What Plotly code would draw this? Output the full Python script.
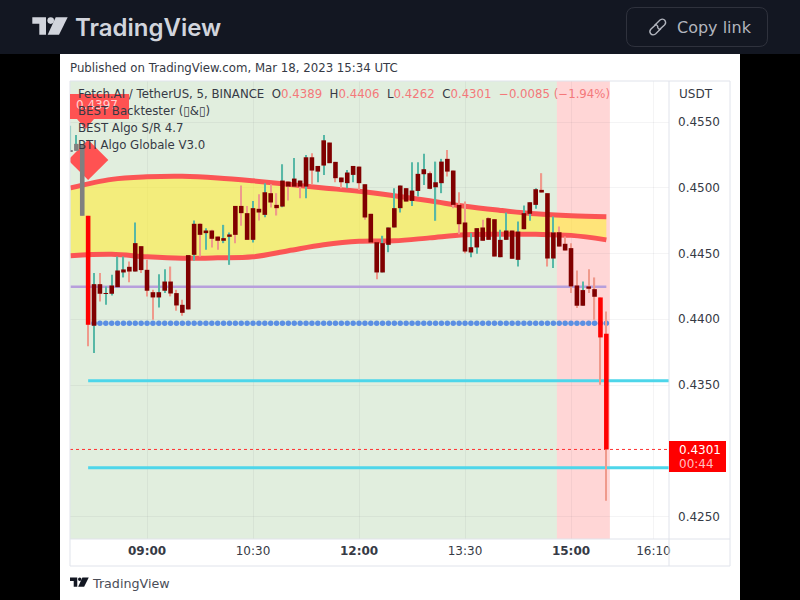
import plotly.graph_objects as go
import numpy as np
import pandas as pd

# FET/USDT 5 minute bars
times = pd.date_range("2023-03-18 07:55", "2023-03-18 15:30", freq="5min")

open_px = [
    .45273, .45281, .45326, .44787, .43951, .44267, .44194, .44194, .44244, .44356,
    .44399, .44363, .44556, .44376, .44206, .44166, .44217, .44287, .44199, .44110,
    .44488, .44490, .44726, .44655, .44675, .44629, .44597, .44627, .44862, .44862,
    .44807, .44604, .44840, .44794, .44959, .44870, .44857, .45047, .45009, .45055,
    .45009, .45232, .45123, .45169, .45344, .45197, .45078, .45035, .45098, .45161,
    .45027, .44802, .44586, .44356, .44566, .44698, .44845, .44997, .44900, .44976,
    .45103, .45111, .45004, .45035, .45220, .45131, .44870, .44736, .44508, .44546,
    .44698, .44769, .44761, .44472, .44604, .44675, .44452, .44685, .44802, .44870,
    .44984, .44959, .44462, .44662, .44574, .44541, .44257, .44103, .44250, .44229,
    .44166, .4389,
]
high_px = [
    .45471, .45402, .45326, .44787, .44351, .44351, .44250, .44338, .44477, .44477,
    .44439, .44736, .44556, .44452, .44224, .44343, .44381, .44401, .44224, .44148,
    .44488, .44751, .44731, .44693, .44680, .44629, .44718, .44660, .44862, .45017,
    .44862, .44900, .44951, .45035, .45027, .44959, .45179, .45047, .45227, .45055,
    .45250, .45263, .45166, .45402, .45344, .45197, .45078, .45136, .45166, .45161,
    .45027, .44802, .44586, .44635, .44698, .44997, .45017, .44997, .45194, .45194,
    .45258, .45123, .45199, .45220, .45288, .45131, .44966, .44895, .44655, .44693,
    .44756, .44776, .44761, .44680, .44812, .44675, .44743, .44865, .44890, .44997,
    .45111, .44959, .44781, .44705, .44629, .44579, .44371, .44287, .44381, .44318,
    .44166, .4406,
]
low_px = [
    .45273, .45281, .44787, .43794, .43743, .44136, .44110, .44181, .44244, .44318,
    .44282, .44363, .44351, .44174, .43996, .44090, .44199, .44174, .44065, .44027,
    .44075, .44447, .44477, .44528, .44546, .44528, .44579, .44414, .44579, .44711,
    .44604, .44584, .44751, .44776, .44850, .44789, .44852, .44903, .45009, .44921,
    .44921, .45027, .45042, .45098, .45187, .45042, .44997, .44997, .45042, .44984,
    .44756, .44584, .44305, .44356, .44510, .44698, .44812, .44895, .44862, .44933,
    .45022, .44989, .44749, .44959, .45085, .44845, .44647, .44503, .44472, .44498,
    .44597, .44604, .44477, .44472, .44604, .44460, .44401, .44685, .44749, .44840,
    .44964, .44401, .44389, .44553, .44523, .44199, .44085, .44103, .44199, .43996,
    .43502, .4262,
]
close_px = [
    .45281, .45334, .44787, .43958, .44267, .44194, .44199, .44257, .44371, .44379,
    .44363, .44579, .44374, .44217, .44166, .44206, .44287, .44196, .44105, .44049,
    .44075, .44726, .44642, .44675, .44612, .44597, .44617, .44645, .44642, .44807,
    .44604, .44845, .44812, .44966, .44888, .44845, .45055, .45009, .45070, .45009,
    .45232, .45131, .45166, .45361, .45187, .45073, .45042, .45116, .45166, .45035,
    .44774, .44584, .44356, .44579, .44698, .44845, .45017, .44895, .44979, .45106,
    .45141, .44992, .45042, .45199, .45123, .44870, .44723, .44515, .44548, .44693,
    .44597, .44604, .44477, .44604, .44675, .44460, .44667, .44807, .44890, .44989,
    .44964, .44462, .44660, .44553, .44523, .44250, .44103, .44222, .44232, .44171,
    .43862, .4301,
]
gray_bars = ["07:55", "08:00", "08:05"]
bright_bars = ["08:10", "15:25", "15:30"]

# cloud bands, one reading every half hour
band_times = ["07:55", "08:30", "09:00", "09:30", "10:00", "10:30", "11:00", "11:30", "12:00",
              "12:30", "13:00", "13:30", "14:00", "14:30", "15:00", "15:30"]
band_upper = [.44999, .45064, .45083, .45087, .45075, .45053, .45026, .44999, .44973,
              .44939, .44901, .44859, .44828, .44802, .44787, .44779]
band_lower = [.44483, .44494, .44475, .44464, .44467, .44475, .44521, .44566, .44593,
              .44597, .44619, .44642, .44646, .44646, .44638, .44604]

level_purple = .44247
level_dots = .4397
level_cyan = [.43533, .42871]
last_price = .4301
signal_price = .45212

x_ticks = ["09:00", "10:30", "12:00", "13:30", "15:00", "16:10"]
x_tick_labels = ["<b>09:00</b>", "10:30", "<b>12:00</b>", "13:30", "<b>15:00</b>", "16:10"]
y_ticks = [.425, .435, .44, .445, .45, .455]

DAY = "2023-03-18 "
X_START, X_END = DAY + "07:54:36", DAY + "16:23:12"
Y_RANGE = [.42329, .45812]
# paper coordinates come out about 2px short of the 800 wide figure
W, H = 798, 600
FONT = "DejaVu Sans"
BAR_MS = 300000
GRID = "rgba(42,46,57,0.05)"


def day(labels):
    return [DAY + t for t in labels]


def pt(x, y):
    return f"{x / W:.5f},{1 - y / H:.5f}"


def rect(x0, y0, x1, y1, color, line=None, layer="above"):
    return dict(type="rect", xref="paper", yref="paper", x0=x0 / W, x1=x1 / W, y0=1 - y0 / H,
                y1=1 - y1 / H, fillcolor=color, line=dict(color=line or color, width=1 if line else 0),
                layer=layer)


def path(points, color=None, line=None, width=1.4, layer="above"):
    return dict(type="path", xref="paper", yref="paper", path=points, fillcolor=color,
                line=dict(color=line or color, width=width if line else 0), layer=layer)


def poly(pts):
    return "M " + " L ".join(pt(*p) for p in pts) + " Z"


def tv_logo(x0, y0, s, color):
    # the T, the dot and the slash of the logo
    shapes = [
        path(poly([(x0, y0), (x0 + 13.7 * s, y0), (x0 + 13.7 * s, y0 + 17.5 * s), (x0 + 7 * s, y0 + 17.5 * s),
                   (x0 + 7 * s, y0 + 6.5 * s), (x0, y0 + 6.5 * s)]), color),
        path(poly([(x0 + 23.4 * s, y0), (x0 + 35.4 * s, y0), (x0 + 26.7 * s, y0 + 17.5 * s), (x0 + 15.4 * s, y0 + 17.5 * s)]), color),
        dict(type="circle", xref="paper", yref="paper", x0=(x0 + 15.1 * s) / W, x1=(x0 + 21.7 * s) / W,
             y0=1 - y0 / H, y1=1 - (y0 + 6.6 * s) / H, fillcolor=color, line=dict(width=0), layer="above"),
    ]
    return shapes


def label(x, y, text, size=11.75, color="#363a45", anchor="left", **font_kw):
    return dict(xref="paper", yref="paper", x=x / W, y=1 - y / H, text=text, showarrow=False,
                xanchor=anchor, yanchor="middle", align="left", borderpad=0,
                font=dict(family=font_kw.pop("family", FONT), size=size, color=color, **font_kw))


opens, highs, lows, closes = map(np.array, (open_px, high_px, low_px, close_px))
hhmm = times.strftime("%H:%M")
wick_colors = ["#58b8a6" if c > o else "#ef9a8c" for o, c in zip(open_px, close_px)]
body_colors = ["#808080" if t in gray_bars else "#ff0000" if t in bright_bars else "#800000" for t in hhmm]

fig = go.Figure()

# layers under the candles
fig.add_trace(go.Scatter(x=day(band_times), y=band_upper, mode="lines", line=dict(color="#fb5555", width=5, shape="spline")))
fig.add_trace(go.Scatter(x=day(band_times), y=band_lower, mode="lines", line=dict(color="#fb5555", width=5, shape="spline"),
                         fill="tonexty", fillcolor="rgba(255,236,59,0.6)"))
fig.add_trace(go.Scatter(x=[times[0], times[-1]], y=[level_purple] * 2, mode="lines", line=dict(color="#b79fdc", width=2.5)))
fig.add_trace(go.Scatter(x=times[4:], y=[level_dots] * len(times[4:]), mode="markers",
                         marker=dict(color="#5b8fe3", size=5.5)))
for level in level_cyan:
    fig.add_trace(go.Scatter(x=[times[3], X_END], y=[level] * 2, mode="lines", line=dict(color="#4dd6ea", width=3)))
fig.add_trace(go.Scatter(x=[X_START, X_END], y=[last_price] * 2, mode="lines",
                         line=dict(color="#ff3030", width=1, dash="dot")))
fig.add_trace(go.Scatter(x=[times[3]], y=[signal_price], mode="markers",
                         marker=dict(symbol="diamond", color="#ff5252", size=31)))

# candles go on overlay axes, otherwise the scatter layer would cover them
fig.add_trace(go.Bar(x=times, y=highs - lows, base=lows, width=BAR_MS * 0.2, marker=dict(color=wick_colors, line_width=0),
                     xaxis="x2", yaxis="y2"))
fig.add_trace(go.Bar(x=times, y=np.abs(closes - opens), base=np.minimum(opens, closes), width=BAR_MS * 0.78,
                     marker=dict(color=body_colors, line_width=0), xaxis="x2", yaxis="y2"))

shapes = [
    rect(0, 0, 800, 54, "#131722", layer="below"),
    rect(60, 54, 740, 600, "#ffffff", layer="below"),
    dict(type="rect", xref="x", yref="y", x0=X_START, x1=DAY + "14:48", y0=Y_RANGE[0], y1=Y_RANGE[1],
         fillcolor="rgba(90,160,70,0.18)", line_width=0, layer="below"),
    dict(type="rect", xref="x", yref="y", x0=DAY + "14:48", x1=DAY + "15:33", y0=Y_RANGE[0], y1=Y_RANGE[1],
         fillcolor="rgba(255,0,0,0.16)", line_width=0, layer="below"),
    # chart frame
    rect(70, 81, 730, 566, "rgba(0,0,0,0)", line="#e0e3eb"),
    dict(type="line", xref="paper", yref="paper", x0=669 / W, x1=669 / W, y0=1 - 81 / H, y1=1 - 566 / H,
         line=dict(color="#e0e3eb", width=1), layer="above"),
    dict(type="line", xref="paper", yref="paper", x0=70 / W, x1=730 / W, y0=1 - 539 / H, y1=1 - 539 / H,
         line=dict(color="#e0e3eb", width=1), layer="above"),
    # signal tag
    rect(70, 94, 129, 119, "#ff5252"),
    path(poly([(77, 119), (94, 119), (85.5, 129)]), "#ff5252"),
    # last price box
    rect(669, 441, 726, 472, "#ff0000"),
    # copy link button
    path(f"M {pt(635, 7.5)} L {pt(759, 7.5)} Q {pt(767.5, 7.5)} {pt(767.5, 16)} L {pt(767.5, 38)} "
         f"Q {pt(767.5, 46.5)} {pt(759, 46.5)} L {pt(635, 46.5)} Q {pt(626.5, 46.5)} {pt(626.5, 38)} "
         f"L {pt(626.5, 16)} Q {pt(626.5, 7.5)} {pt(635, 7.5)} Z", None, line="#2f323d", width=1),
    path(f"M {pt(654.5, 25.5)} L {pt(660, 20)} Q {pt(663, 18)} {pt(665, 20.5)} Q {pt(666.5, 23)} {pt(664.5, 25)} "
         f"L {pt(659.5, 29.5)} Q {pt(658, 28.5)} {pt(657.5, 27)}", None, line="#b2b5be"),
    path(f"M {pt(661, 28.5)} L {pt(655.5, 34)} Q {pt(652.5, 36)} {pt(650.5, 33.5)} Q {pt(649, 31)} {pt(651, 29)} "
         f"L {pt(656, 24.5)} Q {pt(657.5, 25.5)} {pt(658, 27)}", None, line="#b2b5be"),
]
shapes += tv_logo(32.3, 17.3, 1, "#d1d4dc")
shapes += tv_logo(70, 577.5, 0.53, "#131722")

RED = "#f4787a"
NB = "\u00a0"
ohlc_text = (f"Fetch.AI / TetherUS, 5, BINANCE{NB}{NB}O<span style='color:{RED}'>0.4389</span>{NB}{NB}"
             f"H<span style='color:{RED}'>0.4406</span>{NB}{NB}L<span style='color:{RED}'>0.4262</span>{NB}{NB}"
             f"C<span style='color:{RED}'>0.4301</span>{NB}{NB}<span style='color:{RED}'>\u22120.0085 (\u22121.94%)</span>")

annotations = [
    label(74, 27, "TradingView", 24, "#d1d4dc", family="Inter", weight=600),
    label(675.5, 27, "Copy link", 16, "#b2b5be"),
    label(69, 68.5, "Published on TradingView.com, Mar 18, 2023 15:34 UTC"),
    label(75, 105, "0.4397", 12, "rgba(255,255,255,0.75)"),
    label(77, 94.5, ohlc_text),
    label(77, 111.5, "BEST Backtester (\u25af&\u25af)"),
    label(77, 128.5, "BEST Algo S/R 4.7"),
    label(77, 144.5, "BTI Algo Globale V3.0"),
    label(678, 94, "USDT", 12),
    label(678, 449.5, "0.4301", 12, "#ffffff"),
    label(678, 464, "00:44", 12, "rgba(255,255,255,0.75)"),
    label(90.5, 583, "TradingView", 12.7, "#4a4d57"),
]

fig.update_layout(
    width=800,
    height=H,
    autosize=False,
    margin=dict(l=0, r=0, t=0, b=0),
    paper_bgcolor="#000000",
    plot_bgcolor="#ffffff",
    showlegend=False,
    barmode="overlay",
    hovermode=False,
    shapes=shapes,
    annotations=annotations,
    xaxis=dict(
        domain=[70 / W, 669 / W], type="date", range=[X_START, X_END], tickmode="array",
        tickvals=day(x_ticks), ticktext=x_tick_labels, ticks="", ticklabelstandoff=3,
        tickfont=dict(family=FONT, size=12, color="#363a45"), gridcolor=GRID, gridwidth=1,
        showline=False, zeroline=False, fixedrange=True,
    ),
    yaxis=dict(
        domain=[1 - 539 / H, 1 - 81 / H], side="right", range=Y_RANGE, tickmode="array", tickvals=y_ticks,
        ticktext=[f"{v:.4f}" for v in y_ticks], ticks="", ticklabelstandoff=8,
        tickfont=dict(family=FONT, size=12, color="#363a45"), gridcolor=GRID, gridwidth=1,
        showline=False, zeroline=False, fixedrange=True,
    ),
    xaxis2=dict(overlaying="x", type="date", range=[X_START, X_END], visible=False, anchor="y2"),
    yaxis2=dict(overlaying="y", side="right", range=Y_RANGE, visible=False, anchor="x2"),
)

fig.write_html(
    "out.html",
    config={"displayModeBar": False},
    post_script="document.documentElement.style.overflow='hidden';document.body.style.margin='0';document.body.style.overflow='hidden';",
)
